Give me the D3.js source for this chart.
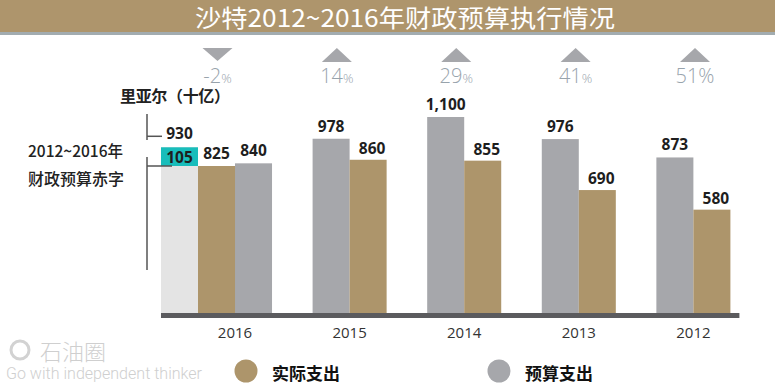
<!DOCTYPE html>
<html>
<head>
<meta charset="utf-8">
<script src="https://cdn.jsdelivr.net/npm/d3@7"></script>
<style>
  body { margin: 0; background: #fff; }
  svg { display: block; }
  .cjk { font-family: "Noto Sans CJK SC", sans-serif; }
  .num { font-family: "Open Sans", sans-serif; }
</style>
</head>
<body>
<div id="chart"></div>
<script>
// values in billions of riyals
var years = ["2016", "2015", "2014", "2013", "2012"];
var budget = [840, 978, 1100, 976, 873];
var actual = [825, 860, 855, 690, 580];
var pctChange = [-2, 14, 29, 41, 51];
var total2016 = 930;
var deficit2016 = 105;

var W = 775, H = 388;
var brown = "#ad956b", grey = "#a6a7ab", light = "#e4e4e4", teal = "#18bdbb";

var svg = d3.select("#chart").append("svg")
    .attr("width", W)
    .attr("height", H);

// title bar
svg.append("rect").attr("x", 0).attr("y", 0).attr("width", W).attr("height", 32).attr("fill", "#ae956c");
svg.append("rect").attr("x", 0).attr("y", 32).attr("width", W).attr("height", 3).attr("fill", "#a2acb0");
svg.append("text")
    .attr("class", "cjk")
    .attr("x", 405).attr("y", 27)
    .attr("text-anchor", "middle")
    .attr("font-size", 24)
    .attr("fill", "#fff")
    .attr("textLength", 420)
    .attr("lengthAdjust", "spacingAndGlyphs")
    .text("沙特2012~2016年财政预算执行情况");

var baseY = 313;
var y = d3.scaleLinear().domain([0, 1100]).range([baseY, 117]);

var x = d3.scaleBand().domain(years).range([198, 730.4]).paddingInner(0.354).paddingOuter(0);
var xs = d3.scaleBand().domain([0, 1]).range([0, x.bandwidth()]);
var xp = d3.scalePoint().domain(years).range([217.5, 695]);

// 2016 total bar with deficit on top
var bw = xs.bandwidth();
var x16 = x("2016") - bw;
svg.append("rect")
    .attr("x", x16).attr("width", bw)
    .attr("y", y(total2016)).attr("height", baseY - y(total2016))
    .attr("fill", light);
svg.append("rect")
    .attr("x", x16).attr("width", bw)
    .attr("y", y(total2016)).attr("height", y(total2016 - deficit2016) - y(total2016))
    .attr("fill", teal);

// bars
var rows = [];
years.forEach(function(yr, i) {
  var first = yr === "2016" ? "actual" : "budget";
  rows.push({year: yr, key: "budget", v: budget[i], slot: first === "budget" ? 0 : 1});
  rows.push({year: yr, key: "actual", v: actual[i], slot: first === "actual" ? 0 : 1});
});

svg.selectAll(".bar").data(rows).enter().append("rect")
    .attr("class", "bar")
    .attr("x", function(d) { return x(d.year) + xs(d.slot); })
    .attr("width", bw)
    .attr("y", function(d) { return y(d.v); })
    .attr("height", function(d) { return baseY - y(d.v); })
    .attr("fill", function(d) { return d.key === "budget" ? grey : brown; });

svg.selectAll(".val").data(rows).enter().append("text")
    .attr("class", "num")
    .attr("x", function(d) { return x(d.year) + xs(d.slot) + bw / 2 + (d.key === "actual" && d.year !== "2016" ? 4 : 0); })
    .attr("y", function(d) { return y(d.v) - (d.key === "actual" && d.year !== "2016" ? 6 : 7); })
    .attr("text-anchor", "middle")
    .attr("font-size", 15.5)
    .attr("font-weight", 700)
    .attr("fill", "#1e1e1e")
    .text(function(d) { return d3.format(",")(d.v); });

// 2016 annotations
svg.append("text").attr("class", "num")
    .attr("x", x16 + bw / 2).attr("y", y(total2016) - 8)
    .attr("text-anchor", "middle").attr("font-size", 15.5).attr("font-weight", 700).attr("fill", "#1e1e1e")
    .text(total2016);
svg.append("text").attr("class", "num")
    .attr("x", x16 + bw / 2).attr("y", y(total2016 - deficit2016) - 3)
    .attr("text-anchor", "middle").attr("font-size", 15.5).attr("font-weight", 700).attr("fill", "#1e1e1e")
    .text(deficit2016);

var ax = 147;
var line = svg.append("g").attr("stroke", "#555").attr("stroke-width", 1.5);
line.append("line").attr("x1", ax).attr("x2", ax).attr("y1", 114).attr("y2", 140);
line.append("line").attr("x1", ax).attr("x2", 162).attr("y1", y(total2016) - 11).attr("y2", y(total2016) - 11);
line.append("line").attr("x1", ax).attr("x2", ax).attr("y1", 157).attr("y2", 270);
line.append("line").attr("x1", ax).attr("x2", 172).attr("y1", y(total2016 - deficit2016)).attr("y2", y(total2016 - deficit2016));

svg.append("text").attr("class", "cjk")
    .attr("x", 120).attr("y", 102).attr("font-size", 16).attr("font-weight", 700).attr("fill", "#222")
    .attr("textLength", 110).attr("lengthAdjust", "spacing")
    .text("里亚尔（十亿）");
svg.append("text").attr("class", "cjk")
    .attr("x", 28).attr("y", 157).attr("font-size", 15.5).attr("font-weight", 500).attr("fill", "#222")
    .text("2012~2016年");
svg.append("text").attr("class", "cjk")
    .attr("x", 28).attr("y", 185).attr("font-size", 16).attr("font-weight", 500).attr("fill", "#222")
    .text("财政预算赤字");

// baseline
svg.append("rect")
    .attr("x", x16).attr("width", x.range()[1] + 9 - x16)
    .attr("y", baseY).attr("height", 5)
    .attr("fill", "#5b5b5e");

// year axis
var axis = svg.append("g")
    .attr("transform", "translate(0," + (baseY + 5) + ")")
    .call(d3.axisBottom(x).tickSize(0).tickPadding(9));
axis.select(".domain").remove();
axis.selectAll("text")
    .attr("font-family", "Open Sans, sans-serif")
    .attr("font-size", 15)
    .attr("fill", "#333");

// percent change markers
var mk = svg.selectAll(".mk").data(years).enter().append("g")
    .attr("transform", function(d) { return "translate(" + xp(d) + ",0)"; });
mk.append("path")
    .attr("d", function(d, i) {
      return pctChange[i] < 0 ? "M-15,48L15,48L0,61Z" : "M-15,62L15,62L0,48Z";
    })
    .attr("fill", grey);
var pt = mk.append("text")
    .attr("class", "num")
    .attr("y", 83)
    .attr("text-anchor", "middle")
    .attr("font-size", 20)
    .attr("font-weight", 300)
    .attr("fill", "#98a3ac");
pt.append("tspan").text(function(d, i) { return pctChange[i]; });
pt.append("tspan")
    .attr("font-size", function(d, i) { return i === years.length - 1 ? 20 : 13; })
    .text("%");

// legend
var legend = [{label: "实际支出", color: brown, x: 246}, {label: "预算支出", color: grey, x: 499}];
var lg = svg.selectAll(".lg").data(legend).enter().append("g");
lg.append("circle").attr("cx", function(d) { return d.x; }).attr("cy", 371).attr("r", 11.5).attr("fill", function(d) { return d.color; });
lg.append("text").attr("class", "cjk")
    .attr("x", function(d) { return d.x + 26; }).attr("y", 380)
    .attr("font-size", 17).attr("font-weight", 700).attr("fill", "#111")
    .text(function(d) { return d.label; });

// watermark
var wm = svg.append("g").attr("fill", "#cfcfcf");
wm.append("circle").attr("cx", 20).attr("cy", 350).attr("r", 9).attr("fill", "none").attr("stroke", "#d2d2d2").attr("stroke-width", 3);
wm.append("text").attr("class", "cjk").attr("x", 40).attr("y", 360).attr("font-size", 22).attr("font-weight", 300).text("石油圈");
wm.append("text").attr("x", 6).attr("y", 379)
    .attr("font-family", "Roboto, sans-serif").attr("font-size", 17).attr("font-weight", 300)
    .attr("textLength", 196).attr("lengthAdjust", "spacingAndGlyphs")
    .text("Go with independent thinker");
</script>
</body>
</html>
